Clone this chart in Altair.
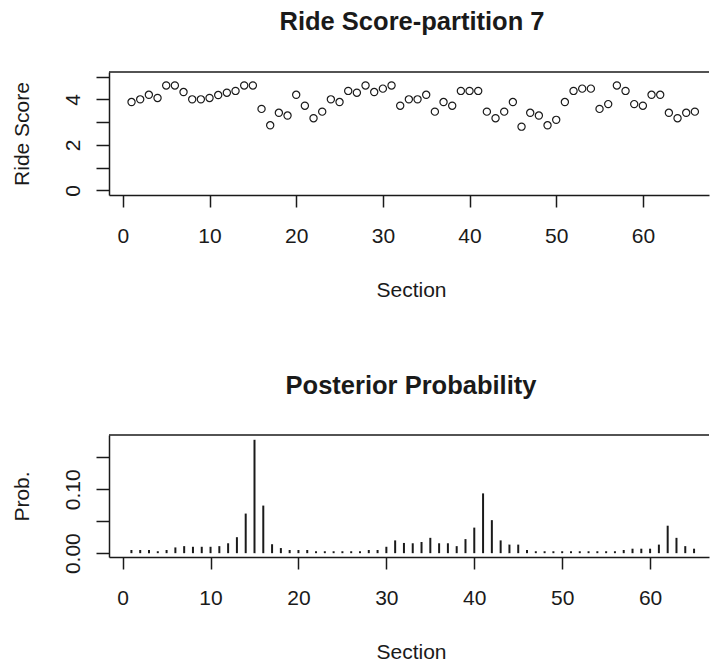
import altair as alt
import pandas as pd

# ---- data ----
score_sections = list(range(1, 67))
ride_scores = [3.88, 4.00, 4.20, 4.06, 4.61, 4.61, 4.32, 4.00, 4.00, 4.06,
               4.19, 4.29, 4.37, 4.61, 4.61, 3.58, 2.86, 3.41, 3.29, 4.20,
               3.72, 3.17, 3.46, 4.00, 3.88, 4.37, 4.29, 4.61, 4.32, 4.47,
               4.61, 3.72, 4.00, 4.00, 4.20, 3.46, 3.88, 3.72, 4.37, 4.37,
               4.37, 3.46, 3.17, 3.46, 3.88, 2.80, 3.41, 3.29, 2.86, 3.10,
               3.88, 4.37, 4.47, 4.47, 3.58, 3.79, 4.61, 4.37, 3.79, 3.72,
               4.20, 4.20, 3.41, 3.17, 3.41, 3.46]

prob_sections = list(range(1, 66))
post_probs = [0.005, 0.005, 0.005, 0.003, 0.005, 0.009, 0.011, 0.010, 0.010, 0.010,
              0.011, 0.0155, 0.025, 0.062, 0.1775, 0.0745, 0.014, 0.008, 0.005, 0.005,
              0.005, 0.003, 0.003, 0.003, 0.003, 0.003, 0.003, 0.005, 0.005, 0.010,
              0.020, 0.016, 0.0155, 0.0175, 0.024, 0.0155, 0.0155, 0.011, 0.022, 0.040,
              0.0936, 0.0517, 0.020, 0.0134, 0.0134, 0.005, 0.003, 0.003, 0.003, 0.003,
              0.003, 0.003, 0.003, 0.003, 0.003, 0.003, 0.005, 0.007, 0.007, 0.007,
              0.0134, 0.043, 0.024, 0.011, 0.007]

x_tick_values = [0, 10, 20, 30, 40, 50, 60]
score_tick_values = [0, 1, 2, 3, 4, 5]
prob_tick_values = [0.0, 0.05, 0.10, 0.15]

score_df = pd.DataFrame({"Section": score_sections, "Score": ride_scores})
prob_df = pd.DataFrame({"Section": prob_sections, "Prob": post_probs})

FONT = "Liberation Sans"
INK = "#1a1a1a"
W = 600
H1 = 123
H2 = 122


def x_axis():
    return alt.Axis(values=x_tick_values, title="Section", grid=False,
                    tickSize=12, tickWidth=1.5, tickColor=INK,
                    domainColor=INK, domainWidth=1.5,
                    labelFont=FONT, labelFontSize=21, labelColor=INK,
                    labelBaseline="alphabetic", labelPadding=35,
                    labelFlush=False, labelOverlap=False,
                    titleFont=FONT, titleFontSize=21, titleFontWeight="normal",
                    titleColor=INK, titleBaseline="alphabetic", titleAlign="center",
                    titleX=302, titleY=101)


def y_axis(title, values, label_expr, fmt, title_y):
    return alt.Axis(values=values, title=title, grid=False, format=fmt,
                    labelExpr=label_expr,
                    tickSize=13, tickWidth=1.5, tickColor=INK,
                    domainColor=INK, domainWidth=1.5,
                    labelFont=FONT, labelFontSize=21, labelColor=INK,
                    labelAngle=270, labelAlign="center", labelBaseline="alphabetic",
                    labelPadding=16.5, labelFlush=False, labelOverlap=False,
                    titleFont=FONT, titleFontSize=21, titleFontWeight="normal",
                    titleColor=INK, titleAngle=270, titleAlign="center",
                    titleBaseline="alphabetic", titleX=-81, titleY=title_y)


def top_border(h):
    return alt.Chart(pd.DataFrame({"k": [0]})).mark_rule(
        color=INK, strokeWidth=1.5
    ).encode(x=alt.value(0), x2=alt.value(W), y=alt.value(0))


points = alt.Chart(score_df).mark_point(
    shape="circle", filled=False, size=52, strokeWidth=1.2, color=INK, opacity=1
).encode(
    x=alt.X("Section:Q", scale=alt.Scale(domain=[-1.6, 67.63], nice=False, zero=False),
            axis=x_axis()),
    y=alt.Y("Score:Q", scale=alt.Scale(domain=[-0.2, 5.2], nice=False, zero=False),
            axis=y_axis("Ride Score", score_tick_values,
                        "datum.value % 2 == 0 ? datum.label : ''", "d", 61.5)),
)

top = alt.layer(points, top_border(H1)).properties(
    width=W, height=H1,
    title=alt.TitleParams("Ride Score-partition 7", font=FONT, fontSize=25.5,
                          fontWeight="bold", color=INK, anchor="middle",
                          frame="group", baseline="alphabetic", offset=16, dx=3),
)

bars = alt.Chart(prob_df).mark_rule(color=INK, strokeWidth=2).encode(
    x=alt.X("Section:Q", scale=alt.Scale(domain=[-1.55, 66.7], nice=False, zero=False),
            axis=x_axis()),
    y=alt.Y("Prob:Q", scale=alt.Scale(domain=[-0.006, 0.185], nice=False, zero=False),
            axis=y_axis("Prob.", prob_tick_values,
                        "(round(datum.value * 100) % 10 == 0) ? datum.label : ''",
                        ".2f", 61)),
    y2=alt.datum(0),
)

bottom = alt.layer(bars, top_border(H2)).properties(
    width=W, height=H2,
    title=alt.TitleParams("Posterior Probability", font=FONT, fontSize=25.5,
                          fontWeight="bold", color=INK, anchor="middle",
                          frame="group", baseline="alphabetic", offset=15, dx=2),
)

chart = alt.vconcat(top, bottom, spacing=240, bounds="flush").properties(
    padding={"left": 11, "top": 9, "right": 0, "bottom": 0},
    background="white",
).configure_view(stroke=None)

chart.save("out.html", embed_options={"renderer": "svg", "actions": False})
